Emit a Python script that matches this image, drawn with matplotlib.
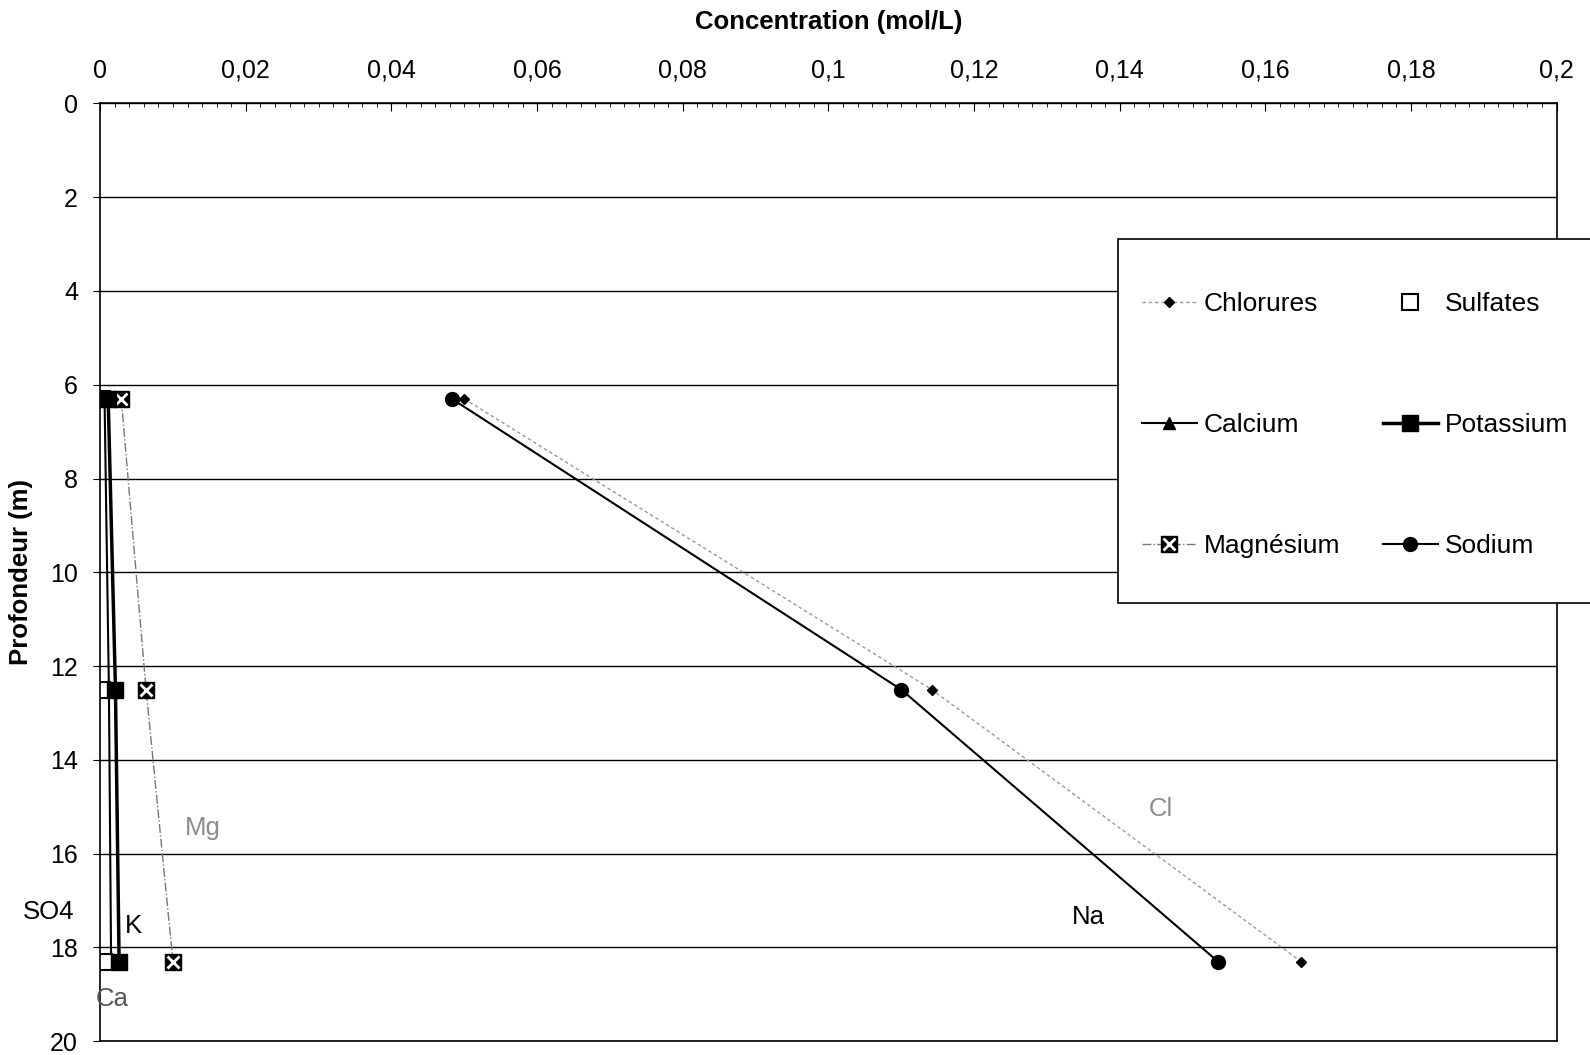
import numpy as np
import matplotlib.pyplot as plt
from matplotlib.ticker import MultipleLocator, FuncFormatter
from matplotlib.patches import Rectangle

plt.rcParams['font.family'] = ['Liberation Sans', 'DejaVu Sans']

# --- Data ---
depth = [6.3, 12.5, 18.3]
chlorures = [0.0500, 0.1142, 0.1649]
sulfates = [0.0003, 0.0003, 0.0005]
calcium = [0.0006, 0.0012, 0.0015]
potassium = [0.0011, 0.0021, 0.0026]
magnesium = [0.0029, 0.0063, 0.0100]
sodium = [0.0483, 0.1100, 0.1535]

label_names = ['Mg', 'Cl', 'Na', 'K', 'SO4', 'Ca']
label_x = [0.0141, 0.1457, 0.1357, 0.0045, -0.0071, 0.0017]
label_y = [15.45, 15.05, 17.35, 17.55, 17.25, 19.1]
label_colors = ['#8c8c8c', '#8c8c8c', 'black', 'black', 'black', '#555555']

fig = plt.figure(figsize=(15.9, 10.55), dpi=100)
ax = fig.add_axes([0.063, 0.013, 0.916, 0.889])

h_cl, = ax.plot(chlorures, depth, color='#999999', lw=1, ls=(0, (2.5, 2)),
                marker='D', ms=5, mfc='black', mec='black')
h_ca, = ax.plot(calcium, depth, color='black', lw=1.5, marker='^', ms=8,
                mfc='black', mec='black')
h_mg, = ax.plot(magnesium, depth, color='#777777', lw=1, ls='-.',
                marker='s', ms=11, mfc='black', mec='black')
h_mgx, = ax.plot(magnesium, depth, ls='none', marker='x', ms=8,
                 mec='white', mew=2)
h_so4, = ax.plot(sulfates, depth, ls='none', marker='s', ms=11,
                 mfc='white', mec='black', mew=1.5)
h_k, = ax.plot(potassium, depth, color='black', lw=2.5, marker='s', ms=11,
               mfc='black', mec='black')
h_na, = ax.plot(sodium, depth, color='black', lw=1.5, marker='o', ms=10,
                mfc='black', mec='black')

for name, xx, yy, c in zip(label_names, label_x, label_y, label_colors):
    ax.text(xx, yy, name, fontsize=18.5, color=c, ha='center', va='center', clip_on=False)

ax.set_xlim(0, 0.2)
ax.set_ylim(20, 0)
ax.xaxis.set_ticks_position('top')
ax.xaxis.set_label_position('top')
ax.xaxis.set_major_locator(MultipleLocator(0.02))
ax.xaxis.set_minor_locator(MultipleLocator(0.002))
ax.xaxis.set_major_formatter(FuncFormatter(lambda v, p: ('%g' % round(v, 3)).replace('.', ',')))
ax.yaxis.set_major_locator(MultipleLocator(2))
ax.tick_params(axis='x', which='major', direction='in', length=6, pad=15, labelsize=18)
ax.tick_params(axis='x', which='minor', direction='in', length=3)
ax.tick_params(axis='y', which='major', direction='out', length=5, pad=11, labelsize=18)
ax.grid(axis='y', color='black', lw=1)
for s in ax.spines.values():
    s.set_linewidth(1.2)

ax.set_xlabel('Concentration (mol/L)', fontsize=18.5, fontweight='bold', labelpad=21)
ax.set_ylabel('Profondeur (m)', fontsize=18.5, fontweight='bold', labelpad=12)

# legend box (runs off the right edge of the figure)
box = Rectangle((0.7034, 0.4288), 0.35, 0.3443, transform=fig.transFigure,
                facecolor='white', edgecolor='black', lw=1.2, zorder=5)
fig.add_artist(box)

leg = fig.legend([h_cl, h_ca, (h_mg, h_mgx), h_so4, h_k, h_na],
                 ['Chlorures', 'Calcium', 'Magnésium', 'Sulfates', 'Potassium', 'Sodium'],
                 ncol=2, loc='center left', bbox_to_anchor=(0.7098, 0.597),
                 fontsize=19, frameon=False, borderpad=0,
                 labelspacing=3.68, columnspacing=1.6,
                 handlelength=2.1, handletextpad=0.25)
leg.set_zorder(6)

fig.savefig('out.png', dpi=100)
